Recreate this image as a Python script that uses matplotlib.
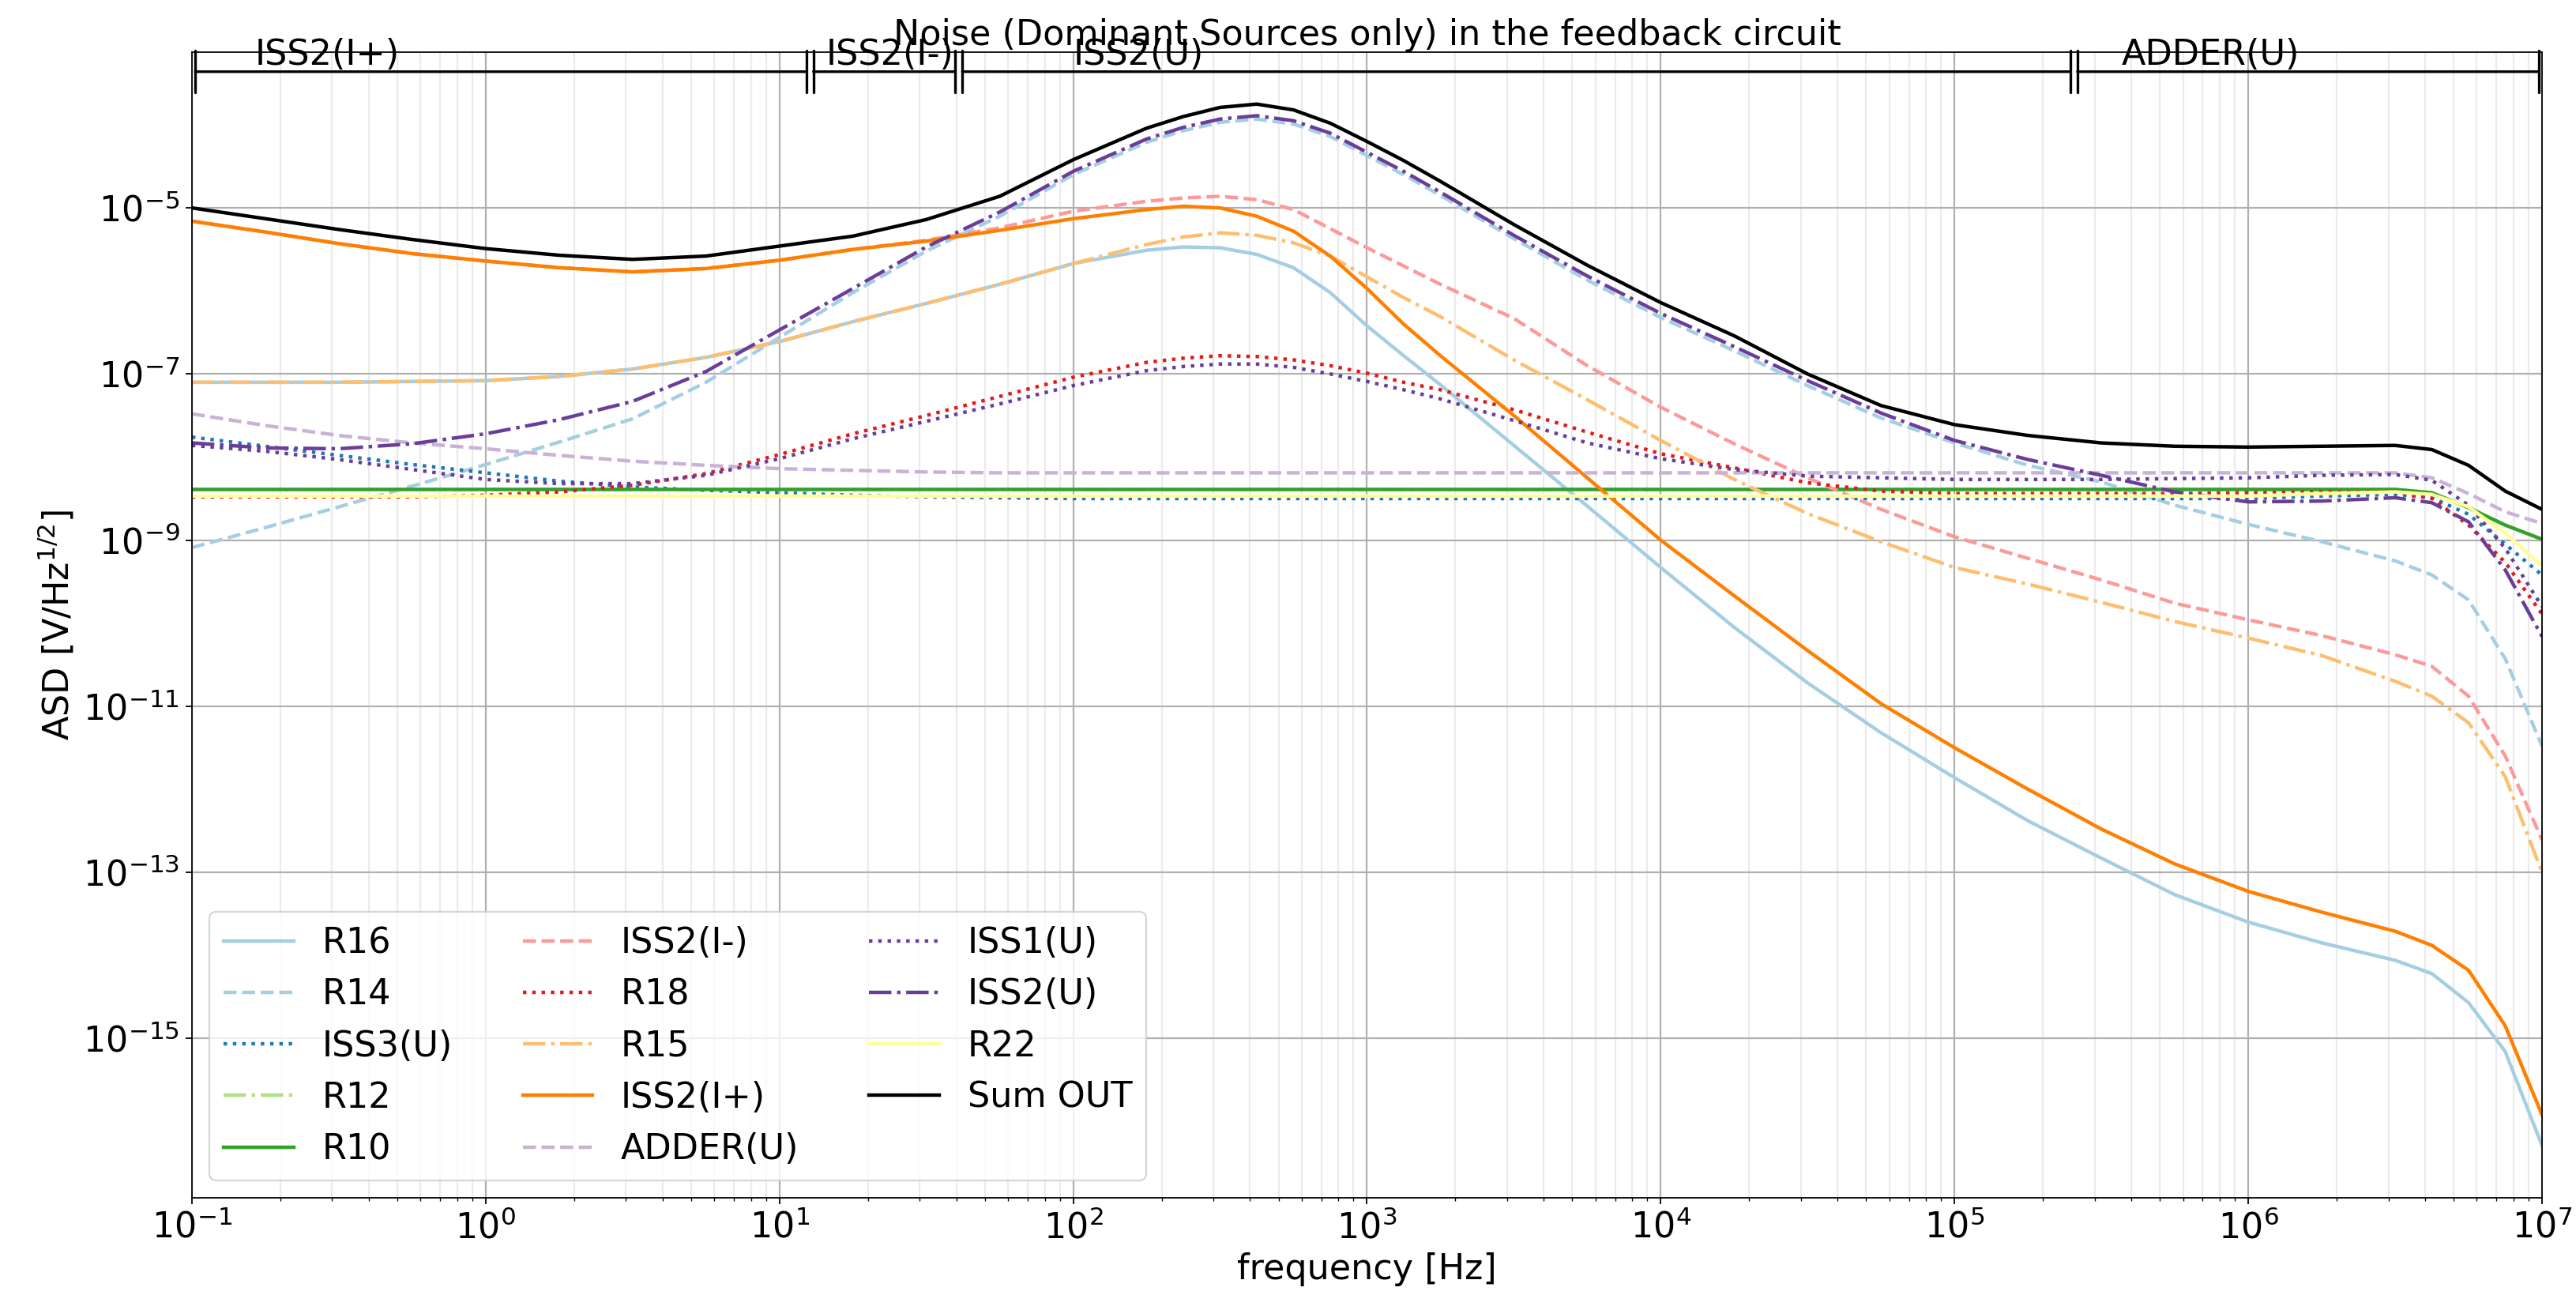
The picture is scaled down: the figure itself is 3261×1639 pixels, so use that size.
import matplotlib
matplotlib.use('Agg')
import matplotlib.pyplot as plt
import numpy as np
from matplotlib.ticker import NullLocator

plt.rcParams['font.size'] = 20

# frequency grid, log10(Hz)
log_freq = [-1.0, -0.75, -0.5, -0.25, 0.0, 0.25, 0.5, 0.75, 1.0, 1.25, 1.5, 1.75,
            2.0, 2.25, 2.375, 2.5, 2.625, 2.75, 2.875, 3.0, 3.125, 3.25,
            3.5, 3.75, 4.0, 4.25, 4.5, 4.75, 5.0, 5.25, 5.5, 5.75, 6.0, 6.25, 6.5,
            6.625, 6.75, 6.875, 7.0]

# log10 of ASD [V/Hz^1/2] per source
r16 = [-7.10, -7.10, -7.10, -7.09, -7.08, -7.03, -6.94, -6.80, -6.61, -6.37, -6.15, -5.92,
       -5.67, -5.51, -5.47, -5.48, -5.56, -5.72, -6.02, -6.42, -6.78, -7.13,
       -7.86, -8.59, -9.33, -10.05, -10.72, -11.32, -11.86, -12.38, -12.83, -13.27, -13.60, -13.85, -14.06,
       -14.22, -14.57, -15.16, -16.29]
r14 = [-9.09, -8.85, -8.60, -8.35, -8.09, -7.82, -7.54, -7.10, -6.56, -6.02, -5.52, -5.10,
       -4.60, -4.21, -4.07, -3.97, -3.93, -3.99, -4.14, -4.37, -4.60, -4.85,
       -5.37, -5.87, -6.32, -6.72, -7.14, -7.53, -7.83, -8.10, -8.30, -8.58, -8.81, -9.02, -9.25,
       -9.42, -9.72, -10.43, -11.48]
iss3_u = [-7.76, -7.87, -7.98, -8.09, -8.19, -8.29, -8.36, -8.40, -8.43, -8.46, -8.48, -8.49,
          -8.50, -8.50, -8.50, -8.50, -8.50, -8.50, -8.50, -8.50, -8.50, -8.50,
          -8.50, -8.50, -8.50, -8.50, -8.50, -8.50, -8.50, -8.50, -8.50, -8.50, -8.50, -8.47, -8.45,
          -8.49, -8.69, -9.05, -9.42]
r12 = [-8.39, -8.39, -8.39, -8.39, -8.39, -8.39, -8.39, -8.39, -8.39, -8.39, -8.39, -8.39,
       -8.39, -8.39, -8.39, -8.39, -8.39, -8.39, -8.39, -8.39, -8.39, -8.39,
       -8.39, -8.39, -8.39, -8.39, -8.39, -8.39, -8.39, -8.39, -8.39, -8.39, -8.39, -8.39, -8.39,
       -8.43, -8.61, -8.82, -8.99]
r10 = [-8.39, -8.39, -8.39, -8.39, -8.39, -8.39, -8.39, -8.39, -8.39, -8.39, -8.39, -8.39,
       -8.39, -8.39, -8.39, -8.39, -8.39, -8.39, -8.39, -8.39, -8.39, -8.39,
       -8.39, -8.39, -8.39, -8.39, -8.39, -8.39, -8.39, -8.39, -8.39, -8.39, -8.39, -8.39, -8.39,
       -8.43, -8.61, -8.82, -8.99]
iss2_im = [-5.16, -5.29, -5.43, -5.55, -5.64, -5.72, -5.77, -5.73, -5.63, -5.50, -5.39, -5.24,
           -5.04, -4.92, -4.88, -4.86, -4.90, -5.02, -5.25, -5.48, -5.70, -5.92,
           -6.33, -6.90, -7.40, -7.84, -8.25, -8.63, -8.96, -9.22, -9.48, -9.76, -9.96, -10.15, -10.38,
           -10.52, -10.88, -11.60, -12.61]
r18 = [-8.48, -8.48, -8.48, -8.48, -8.46, -8.42, -8.34, -8.20, -7.97, -7.72, -7.50, -7.27,
       -7.04, -6.86, -6.81, -6.78, -6.79, -6.83, -6.90, -6.99, -7.10, -7.19,
       -7.43, -7.70, -7.96, -8.13, -8.31, -8.41, -8.44, -8.44, -8.44, -8.44, -8.43, -8.42, -8.42,
       -8.50, -8.82, -9.27, -9.89]
r15 = [-7.10, -7.10, -7.10, -7.09, -7.08, -7.03, -6.94, -6.80, -6.61, -6.37, -6.15, -5.92,
       -5.67, -5.44, -5.35, -5.30, -5.33, -5.42, -5.58, -5.83, -6.08, -6.31,
       -6.83, -7.31, -7.80, -8.27, -8.68, -9.02, -9.33, -9.53, -9.75, -9.98, -10.18, -10.39, -10.70,
       -10.88, -11.20, -11.85, -13.00]
iss2_ip = [-5.16, -5.29, -5.43, -5.55, -5.64, -5.72, -5.77, -5.73, -5.63, -5.50, -5.40, -5.27,
           -5.13, -5.02, -4.98, -5.00, -5.10, -5.28, -5.58, -5.97, -6.40, -6.78,
           -7.50, -8.25, -9.00, -9.67, -10.33, -10.97, -11.50, -12.00, -12.48, -12.90, -13.23, -13.48, -13.71,
           -13.88, -14.18, -14.85, -15.92]
adder_u = [-7.48, -7.62, -7.74, -7.83, -7.90, -7.98, -8.05, -8.10, -8.14, -8.16, -8.18, -8.19,
           -8.19, -8.19, -8.19, -8.19, -8.19, -8.19, -8.19, -8.19, -8.19, -8.19,
           -8.19, -8.19, -8.19, -8.19, -8.19, -8.19, -8.19, -8.19, -8.19, -8.19, -8.19, -8.19, -8.19,
           -8.25, -8.44, -8.66, -8.80]
iss1_u = [-7.86, -7.93, -8.03, -8.15, -8.27, -8.32, -8.32, -8.22, -8.02, -7.78, -7.57, -7.36,
          -7.14, -6.96, -6.91, -6.88, -6.88, -6.92, -7.00, -7.09, -7.19, -7.30,
          -7.56, -7.83, -8.02, -8.15, -8.23, -8.25, -8.27, -8.27, -8.27, -8.26, -8.25, -8.22, -8.21,
          -8.28, -8.58, -9.10, -9.80]
iss2_u = [-7.83, -7.89, -7.90, -7.84, -7.72, -7.55, -7.33, -6.97, -6.47, -5.97, -5.47, -5.05,
          -4.56, -4.17, -4.03, -3.93, -3.89, -3.95, -4.10, -4.33, -4.56, -4.81,
          -5.33, -5.82, -6.27, -6.67, -7.08, -7.47, -7.80, -8.03, -8.22, -8.42, -8.54, -8.53, -8.49,
          -8.55, -8.78, -9.36, -10.16]
r22 = [-8.47, -8.47, -8.47, -8.47, -8.47, -8.47, -8.47, -8.47, -8.47, -8.47, -8.47, -8.47,
       -8.47, -8.47, -8.47, -8.47, -8.47, -8.47, -8.47, -8.47, -8.47, -8.47,
       -8.47, -8.47, -8.47, -8.47, -8.47, -8.47, -8.47, -8.47, -8.47, -8.47, -8.47, -8.44, -8.42,
       -8.45, -8.60, -8.92, -9.31]
sum_out = [-5.00, -5.13, -5.26, -5.38, -5.49, -5.57, -5.62, -5.58, -5.46, -5.34, -5.14, -4.86,
           -4.42, -4.04, -3.90, -3.79, -3.75, -3.82, -3.98, -4.20, -4.43, -4.68,
           -5.20, -5.69, -6.14, -6.54, -7.00, -7.38, -7.61, -7.74, -7.83, -7.87, -7.88, -7.87, -7.86,
           -7.91, -8.10, -8.41, -8.63]

labels = ['R16', 'R14', 'ISS3(U)', 'R12', 'R10', 'ISS2(I-)', 'R18', 'R15',
          'ISS2(I+)', 'ADDER(U)', 'ISS1(U)', 'ISS2(U)', 'R22', 'Sum OUT']
data = [r16, r14, iss3_u, r12, r10, iss2_im, r18, r15,
        iss2_ip, adder_u, iss1_u, iss2_u, r22, sum_out]
colors = ['#a6cee3', '#a6cee3', '#1f78b4', '#b2df8a', '#33a02c', '#fb9a99', '#e31a1c', '#fdbf6f',
          '#ff7f00', '#cab2d6', '#6a3d9a', '#6a3d9a', '#ffff99', 'black']
styles = ['-', '--', ':', '-.', '-', '--', ':', '-.', '-', '--', ':', '-.', '-', '-']

# dominant source ranges shown at the top
dom_edges = [0.1, 12.7, 40.8, 2.55e5, 1e7]
dom_names = ['ISS2(I+)', 'ISS2(I-)', 'ISS2(U)', 'ADDER(U)']
dom_text_x = [0.164, 14.4, 100, 3.7e5]

fig = plt.figure(figsize=(3261 / 160, 1639 / 160), dpi=160)
ax = fig.add_axes([0.0745, 0.075, 0.9123, 0.8847])

freq = 10 ** np.array(log_freq)
for lab, vals, c, ls in zip(labels, data, colors, styles):
    ax.loglog(freq, 10 ** np.array(vals), color=c, linestyle=ls, lw=2, label=lab)

ax.set_xlim(0.1, 1e7)
ax.set_ylim(1.2e-17, 7.5e-4)
ax.set_yticks([1e-15, 1e-13, 1e-11, 1e-9, 1e-7, 1e-5])
ax.yaxis.set_minor_locator(NullLocator())
ax.grid(which='major', color='#b0b0b0', lw=1)
ax.grid(which='minor', axis='x', color='#b0b0b0', lw=1, alpha=0.25)

ax.set_xlabel('frequency [Hz]')
ax.set_ylabel('ASD [V/Hz$^{1/2}$]')
ax.set_title('Noise (Dominant Sources only) in the feedback circuit', fontsize=20, pad=4)
ax.legend(loc='lower left', ncol=3, fontsize=20)

# brackets for dominant sources
ybr = 0.983
for i in range(len(dom_names)):
    ax.annotate('', xy=(dom_edges[i + 1], ybr), xytext=(dom_edges[i], ybr),
                xycoords=('data', 'axes fraction'), textcoords=('data', 'axes fraction'),
                arrowprops=dict(arrowstyle='|-|', color='black', lw=1.5, mutation_scale=12))
    ax.text(dom_text_x[i], ybr, dom_names[i], transform=ax.get_xaxis_transform(),
            ha='left', va='bottom', fontsize=20)

fig.savefig('out.png', dpi=160)
